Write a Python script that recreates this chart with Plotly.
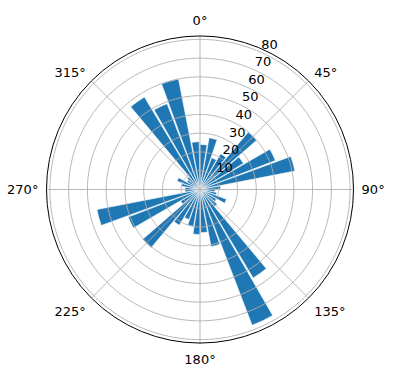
import plotly.graph_objects as go

# bar start angles (deg, clockwise from north) and bar heights
theta_start = list(range(0, 360, 10))
counts = [24, 28, 18, 22, 40, 27, 43, 51.5, 11, 8,
          9, 15, 10, 12, 55, 77.5, 31, 23, 24, 20,
          17, 22, 40.5, 12, 41, 56, 8, 8, 10, 13,
          8, 9, 57.5, 49, 60, 25.5]
bar_width = 9
radial_ticks = [10, 20, 30, 40, 50, 60, 70, 80]
radial_labels = [str(t) for t in radial_ticks]
angular_ticks = [0, 45, 90, 135, 180, 225, 270, 315]
angular_labels = [f"{a}°" for a in angular_ticks]
r_max = 81.8

W, H = 396, 380
CX, CY = 200.0, 189.5          # centre of the polar area (px from top-left)
R_PX = 153.5                   # radius of the outer circle (px)
px_per_unit = R_PX / r_max
label_r0 = -5.0                # label axis starts below 0 -> labels sit just outside rings
R2_PX = (r_max - label_r0) * px_per_unit


def dom(radius):
    return dict(x=[(CX - radius) / W, (CX + radius) / W],
                y=[(H - CY - radius) / H, (H - CY + radius) / H])


theta_center = [t + bar_width / 2 for t in theta_start]

fig = go.Figure()
fig.add_trace(go.Barpolar(
    r=counts, theta=theta_center, width=[bar_width] * len(counts),
    marker=dict(color="#1f77b4", line=dict(color="white", width=0.6)),
    showlegend=False, hoverinfo="skip"))

# grid drawn above bars (matplotlib style)
circ = [i * 2.0 for i in range(181)]
for rt in radial_ticks:
    fig.add_trace(go.Scatterpolar(r=[rt] * len(circ), theta=circ, mode="lines",
                                  line=dict(color="#b0b0b0", width=0.9),
                                  showlegend=False, hoverinfo="skip"))
for a in angular_ticks:
    fig.add_trace(go.Scatterpolar(r=[0, r_max], theta=[a, a], mode="lines",
                                  line=dict(color="#b0b0b0", width=0.9),
                                  showlegend=False, hoverinfo="skip"))

# carrier for the radial tick-label axis
fig.add_trace(go.Scatterpolar(r=[], theta=[], subplot="polar2", showlegend=False,
                              hoverinfo="skip"))

fig.update_layout(
    width=W, height=H,
    margin=dict(l=0, r=0, t=0, b=0),
    paper_bgcolor="white",
    font=dict(family="DejaVu Sans", size=13, color="black"),
    polar=dict(
        domain=dom(R_PX),
        bgcolor="white",
        radialaxis=dict(range=[0, r_max], tickvals=radial_ticks, showgrid=False,
                        showline=False, ticks="", showticklabels=False),
        angularaxis=dict(rotation=90, direction="clockwise", tickvals=angular_ticks,
                         ticktext=angular_labels, showgrid=False, showline=True,
                         linecolor="black", linewidth=1,
                         ticks="outside", ticklen=5, tickcolor="rgba(0,0,0,0)",
                         tickfont=dict(size=13, color="black")),
    ),
    polar2=dict(
        domain=dom(R2_PX),
        bgcolor="rgba(0,0,0,0)",
        radialaxis=dict(range=[label_r0, r_max], tickvals=radial_ticks,
                        ticktext=radial_labels, showgrid=False, showline=False,
                        ticks="", angle=70, tickangle=70, side="clockwise",
                        tickfont=dict(size=13, color="black")),
        angularaxis=dict(rotation=90, direction="clockwise", visible=False,
                         showgrid=False, showline=False),
    ),
)
fig.write_html("out.html")
